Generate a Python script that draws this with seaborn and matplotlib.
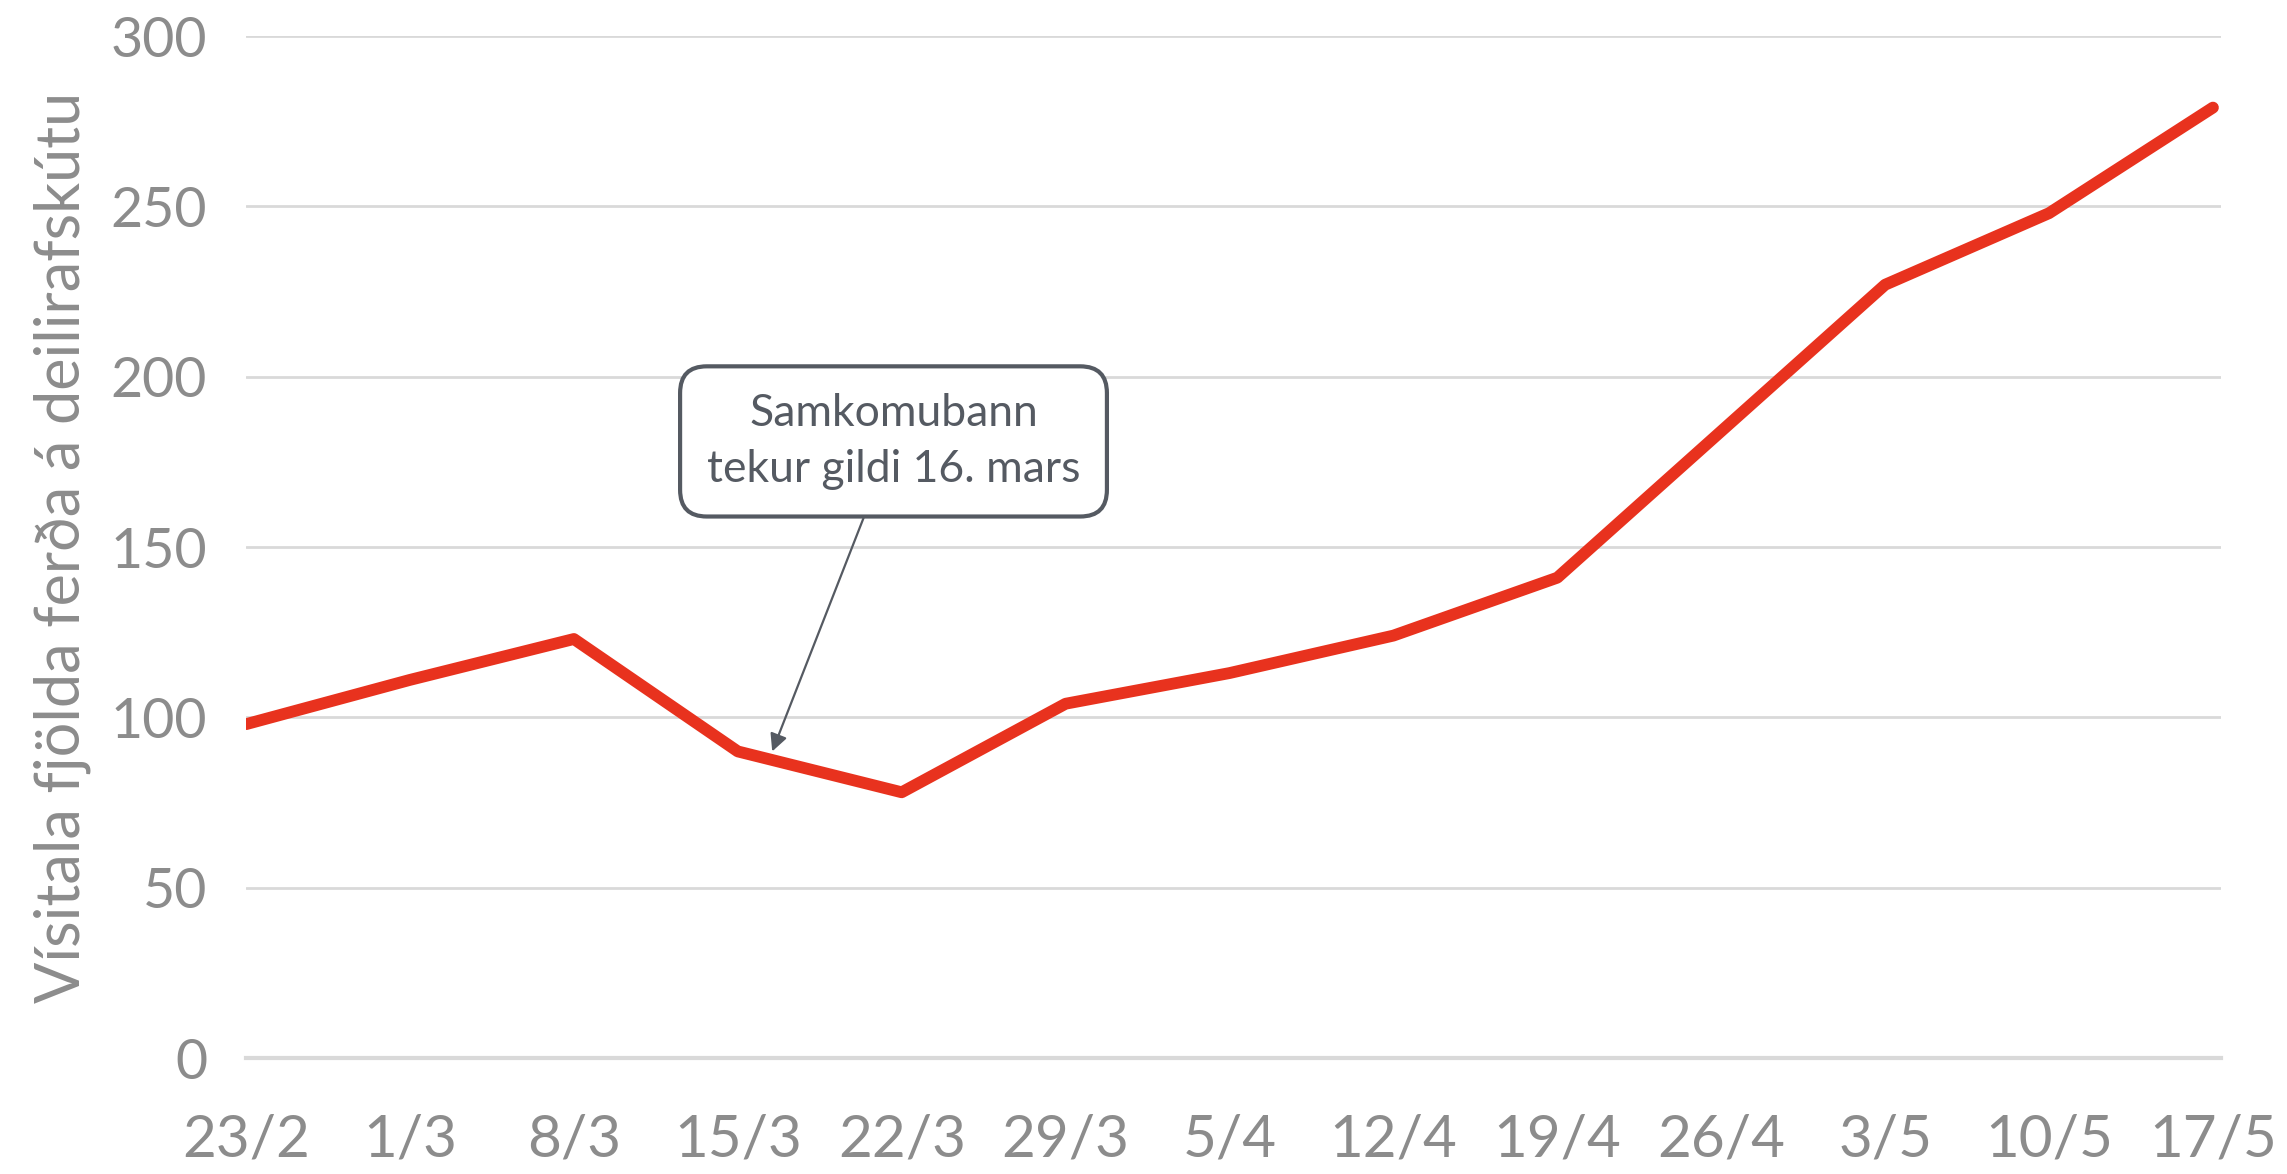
import pandas as pd
import matplotlib
matplotlib.use('Agg')
import matplotlib.pyplot as plt
import seaborn as sns

# Weekly index values
dates = ['23/2', '1/3', '8/3', '15/3', '22/3', '29/3', '5/4',
         '12/4', '19/4', '26/4', '3/5', '10/5', '17/5']
visitala = [98, 111, 123, 90, 78, 104, 113, 124, 141, 184, 227, 248, 279]
y_ticks = [0, 50, 100, 150, 200, 250, 300]

df = pd.DataFrame({'vika': range(len(dates)), 'visitala': visitala})

sns.set_theme(style='white')
plt.rcParams['font.family'] = ['Lato', 'DejaVu Sans']

grey = '#8c8c8c'
fig = plt.figure(figsize=(22.87, 11.74), dpi=100)
ax = fig.add_axes([0.1076, 0.0988, 0.8636, 0.8705])

sns.lineplot(data=df, x='vika', y='visitala', ax=ax, color='#e8321e',
             linewidth=8.5, solid_joinstyle='round', solid_capstyle='round')

ax.set_ylim(0, 300)
ax.set_xlim(0, 12.05)
ax.set_yticks(y_ticks)
ax.set_xticks(range(len(dates)))
ax.set_xticklabels(dates)
ax.yaxis.grid(True, color='#d9d9d9', linewidth=2)
ax.xaxis.grid(False)

for s in ['top', 'right', 'left']:
    ax.spines[s].set_visible(False)
ax.spines['bottom'].set_color('#d9d9d9')
ax.spines['bottom'].set_linewidth(3)

ax.tick_params(axis='x', colors='#d9d9d9', length=16, width=2,
               labelcolor=grey, labelsize=42, pad=24)
ax.tick_params(axis='y', length=0, labelcolor=grey, labelsize=40, pad=28)

ax.set_xlabel('')
ax.set_ylabel('Vísitala fjölda ferða á deilirafskútu', color=grey,
              fontsize=44, labelpad=14)

# Callout for the gathering ban
ax.annotate('Samkomubann\ntekur gildi 16. mars', xy=(3.21, 90), xytext=(3.95, 181),
            ha='center', va='center', fontsize=32, color='#555a62',
            linespacing=1.45,
            bbox=dict(boxstyle='round,pad=0.6,rounding_size=0.6', fc='white',
                      ec='#555a62', lw=3),
            arrowprops=dict(arrowstyle='-|>', color='#555a62', lw=1.6,
                            mutation_scale=26, shrinkA=0, shrinkB=0))

fig.savefig('out.png', dpi=100)
